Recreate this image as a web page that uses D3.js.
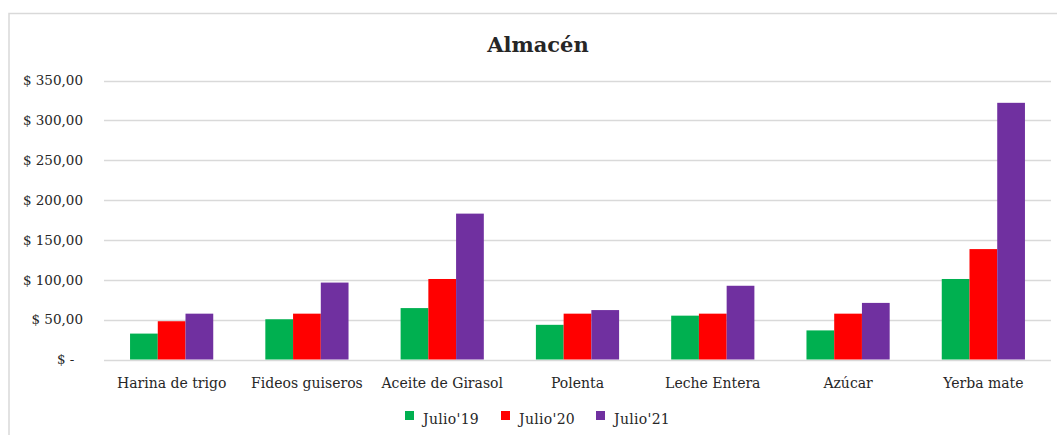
<!DOCTYPE html>
<html><head><meta charset="utf-8">
<script src="https://cdn.jsdelivr.net/npm/d3@7"></script>
<style>
html,body{margin:0;padding:0;background:#fff;}
svg{display:block;}
text{font-family:"DejaVu Serif","Liberation Serif",serif;fill:#262626;}
</style></head>
<body>
<svg id="chart" width="1057" height="435"></svg>
<script>
const categories = ["Harina de trigo","Fideos guiseros","Aceite de Girasol","Polenta","Leche Entera","Azúcar","Yerba mate"];
const seriesNames = ["Julio'19","Julio'20","Julio'21"];
const julio19 = [32.5, 50.5, 64.5, 43.5, 55, 36.5, 101];
const julio20 = [48, 57.5, 101, 57.5, 57.5, 57.5, 138.5];
const julio21 = [57.5, 96.5, 183, 62, 92.5, 71, 322];
const yTicks = [0,50,100,150,200,250,300,350];
const colors = ["#00b050","#ff0000","#7030a0"];

const seriesValues = [julio19, julio20, julio21];
const svg = d3.select("#chart");

// frame
svg.append("rect").attr("x",9).attr("y",13.5).attr("width",1100).attr("height",500)
  .attr("fill","none").attr("stroke","#d9d9d9").attr("stroke-width",1.5);

const x0 = d3.scaleBand().domain(categories).range([104,1051]).paddingInner(0.385).paddingOuter(0.1925);
const x1 = d3.scaleBand().domain(seriesNames).range([0,x0.bandwidth()]);
const y = d3.scaleLinear().domain([0,350]).range([359.5,80.5]);

// grid
svg.append("g").selectAll("line").data(yTicks).join("line")
  .attr("x1",104).attr("x2",1051)
  .attr("y1",d=>Math.round(y(d))+0.5).attr("y2",d=>Math.round(y(d))+0.5)
  .attr("stroke","#d9d9d9").attr("stroke-width",1.3);

// y axis labels
const yAxis = d3.axisLeft(y).tickValues(yTicks).tickSize(0).tickPadding(0)
  .tickFormat(d => d===0 ? "$ -\u00a0\u00a0" : "$ " + d3.format(".2f")(d).replace(".",","));
const gy = svg.append("g").attr("transform","translate(83,0)").attr("color","#262626").call(yAxis);
gy.select(".domain").remove();
gy.selectAll("text").attr("font-size",13.5).attr("fill","#262626").attr("font-family","DejaVu Serif");

// bars
const groups = svg.append("g").selectAll("g").data(categories).join("g")
  .attr("transform",d=>`translate(${x0(d)},0)`);
groups.selectAll("rect").data((d,i)=>seriesNames.map((s,j)=>({s, v: seriesValues[j][i], j})))
  .join("rect")
  .attr("x",d=>x1(d.s)).attr("width",x1.bandwidth())
  .attr("y",d=>y(d.v)).attr("height",d=>y(0)-y(d.v))
  .attr("fill",d=>colors[d.j]);

// x axis labels
const xAxis = d3.axisBottom(x0).tickSize(0).tickPadding(0);
const gx = svg.append("g").attr("transform","translate(0,378)").attr("color","#262626").call(xAxis);
gx.select(".domain").remove();
gx.selectAll("text").attr("font-size",14).attr("fill","#262626").attr("font-family","DejaVu Serif").attr("dy","0.71em");

// title
svg.append("text").attr("x",538).attr("y",52).attr("text-anchor","middle")
  .attr("font-size",21).attr("font-weight","bold").attr("fill","#000").text("Almacén");

// legend
const legX = [405, 501, 596];
const leg = svg.append("g").selectAll("g").data(seriesNames).join("g")
  .attr("transform",(d,i)=>`translate(${legX[i]},0)`);
leg.append("rect").attr("x",0).attr("y",411).attr("width",9).attr("height",9).attr("fill",(d,i)=>colors[i]);
leg.append("text").attr("x",18).attr("y",424).attr("font-size",14).attr("letter-spacing",0.3).text(d=>d);
</script>
</body></html>
